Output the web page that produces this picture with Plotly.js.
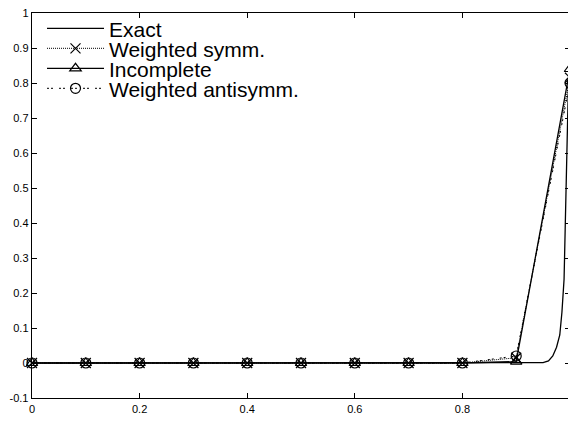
<!DOCTYPE html>
<html>
<head>
<meta charset="utf-8">
<script src="https://cdn.plot.ly/plotly-3.0.1.min.js"></script>
<style>
html, body { margin: 0; padding: 0; overflow: hidden; background: #fff; }
#chart { width: 575px; height: 421px; }
</style>
</head>
<body>
<div id="chart"></div>
<script>
// ---- data ----
const nodeX = [0, 0.1, 0.2, 0.3, 0.4, 0.5, 0.6, 0.7, 0.8, 0.9, 1.0];
const weightedSymm = [0, 0, 0, 0, 0, 0, 0, 0, 0, 0.015, 0.815];
const incomplete = [0, 0, 0, 0, 0, 0, 0, 0, 0, 0.004, 0.84];
const weightedAntisymm = [0, 0, 0, 0, 0, 0, 0, 0, 0, 0.02, 0.80];

const exactX = [0, 0.1, 0.2, 0.3, 0.4, 0.5, 0.6, 0.7, 0.8, 0.9, 0.93, 0.95, 0.96, 0.968, 0.975, 0.981, 0.985, 0.989, 0.991, 0.993, 0.995, 0.997, 1.0];
const exactY = [0, 0, 0, 0, 0, 0, 0, 0, 0, 0, 0, 0.001, 0.006, 0.02, 0.045, 0.08, 0.145, 0.24, 0.38, 0.52, 0.7, 0.85, 1.0];

const seriesNames = ["Exact", "Weighted symm.", "Incomplete", "Weighted antisymm."];

const xTickVals = [0, 0.2, 0.4, 0.6, 0.8];
const xTickText = ["0", "0.2", "0.4", "0.6", "0.8"];
const yTickVals = [-0.1, 0, 0.1, 0.2, 0.3, 0.4, 0.5, 0.6, 0.7, 0.8, 0.9, 1];
const yTickText = ["-0.1", "0", "0.1", "0.2", "0.3", "0.4", "0.5", "0.6", "0.7", "0.8", "0.9", "1"];

const FONT = "Liberation Sans, Arial, Helvetica, sans-serif";

const traces = [
  {
    x: exactX, y: exactY, name: seriesNames[0], type: "scatter", mode: "lines",
    line: { color: "#000", width: 1.3 }, cliponaxis: false
  },
  {
    x: nodeX, y: weightedSymm, name: seriesNames[1], type: "scatter", mode: "lines+markers",
    line: { color: "#000", width: 1, dash: "1px,1px" },
    marker: { symbol: "x-thin-open", size: 10, color: "#000", line: { color: "#000", width: 1.2 } },
    cliponaxis: false
  },
  {
    x: nodeX, y: incomplete, name: seriesNames[2], type: "scatter", mode: "lines+markers",
    line: { color: "#000", width: 1.3 },
    marker: { symbol: "triangle-up-open", size: 10, color: "#000", line: { color: "#000", width: 1.2 } },
    cliponaxis: false
  },
  {
    x: nodeX, y: weightedAntisymm, name: seriesNames[3], type: "scatter", mode: "lines+markers",
    line: { color: "#000", width: 1, dash: "2px,2px,2px,6px" },
    marker: { symbol: "circle-open", size: 10, color: "#000", line: { color: "#000", width: 1.2 } },
    cliponaxis: false
  }
];

const axisCommon = {
  showline: true, linecolor: "#000", linewidth: 1.3, mirror: "ticks",
  ticks: "inside", ticklen: 5, tickwidth: 1, tickcolor: "#000",
  showgrid: false, zeroline: false,
  tickfont: { family: FONT, size: 11, color: "#000" }
};

const layout = {
  width: 575, height: 421,
  margin: { l: 32, r: 5, t: 13, b: 23, pad: 0 },
  paper_bgcolor: "#fff", plot_bgcolor: "#fff",
  showlegend: true,
  legend: {
    x: 10 / 538, y: 1, xanchor: "left", yanchor: "top",
    bgcolor: "rgba(0,0,0,0)", borderwidth: 0,
    font: { family: FONT, size: 21, color: "#000" },
    itemwidth: 57, traceorder: "normal"
  },
  xaxis: Object.assign({}, axisCommon, {
    range: [0, 1], tickmode: "array", tickvals: xTickVals, ticktext: xTickText
  }),
  yaxis: Object.assign({}, axisCommon, {
    range: [-0.1, 1], tickmode: "array", tickvals: yTickVals, ticktext: yTickText
  })
};

const gd = document.getElementById("chart");
Plotly.newPlot(gd, traces, layout, { displayModeBar: false, staticPlot: true }).then(function () {
  // tighten legend rows to the reference spacing (20 px) and place first row at y = 28
  const items = gd.querySelectorAll(".legend .traces");
  if (!items.length) return;
  const parse = (el) => {
    const m = /translate\(\s*([-\d.]+)[ ,]+([-\d.]+)/.exec(el.getAttribute("transform") || "");
    return m ? [parseFloat(m[1]), parseFloat(m[2])] : [0, 0];
  };
  const first = parse(items[0]);
  items.forEach(function (el, i) {
    const p = parse(el);
    el.setAttribute("transform", "translate(" + p[0] + "," + (first[1] + 20 * i) + ")");
  });
  const legendG = gd.querySelector(".legend");
  const line = items[0].querySelector(".js-line");
  const box = line.getBoundingClientRect();
  const svgBox = gd.getBoundingClientRect();
  const cy = (box.top + box.bottom) / 2 - svgBox.top;
  const lp = parse(legendG);
  legendG.setAttribute("transform", "translate(" + lp[0] + "," + (lp[1] + (28.3 - cy)) + ")");
});
</script>
</body>
</html>
